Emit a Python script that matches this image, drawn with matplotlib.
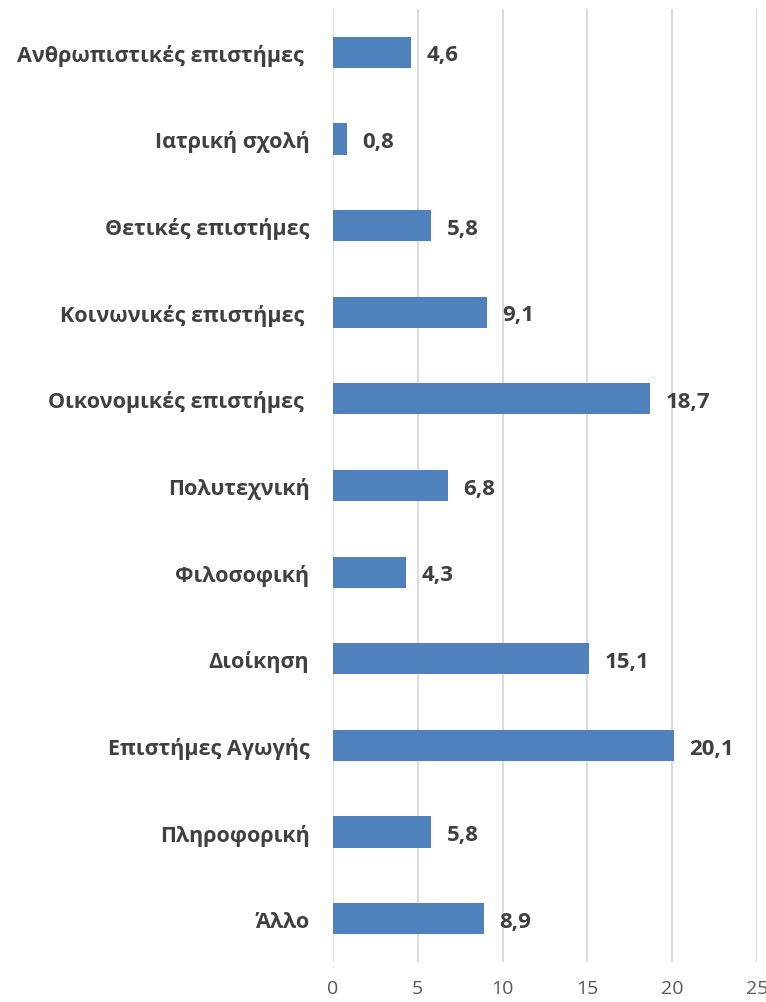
import matplotlib.pyplot as plt

categories = [
    "Ανθρωπιστικές επιστήμες ",
    "Ιατρική σχολή",
    "Θετικές επιστήμες",
    "Κοινωνικές επιστήμες ",
    "Οικονομικές επιστήμες ",
    "Πολυτεχνική",
    "Φιλοσοφική",
    "Διοίκηση",
    "Επιστήμες Αγωγής",
    "Πληροφορική",
    "Άλλο",
]
values = [4.6, 0.8, 5.8, 9.1, 18.7, 6.8, 4.3, 15.1, 20.1, 5.8, 8.9]
xticks = [0, 5, 10, 15, 20, 25]

plt.rcParams["font.family"] = ["Open Sans", "DejaVu Sans"]

fig = plt.figure(figsize=(7.66, 10.03), dpi=100)
ax = fig.add_axes([333 / 766, 1 - 963 / 1003, 424 / 766, 953 / 1003])

pos = list(range(len(categories)))
ax.barh(pos, values, height=0.36, color="#4F81BD", zorder=3)
for p, v in zip(pos, values):
    ax.text(v + 0.9, p + 0.03, f"{v:.1f}".replace(".", ","), va="center", ha="left",
            fontsize=16, fontweight="bold", color="#404040")

ax.set_ylim(len(categories) - 0.5, -0.5)
ax.set_xlim(0, 25)
ax.set_yticks(pos)
ax.set_yticklabels(categories, fontsize=15.5, fontweight="bold", color="#404040")
ax.set_xticks(xticks)
ax.set_xticklabels([str(t) for t in xticks], fontsize=14, color="#595959")
ax.tick_params(axis="y", length=0, pad=17)
ax.tick_params(axis="x", length=0, pad=12)
ax.grid(axis="x", color="#D9D9D9", linewidth=1.3, zorder=0)
for s in ax.spines.values():
    s.set_visible(False)

fig.savefig("out.png", dpi=100)
